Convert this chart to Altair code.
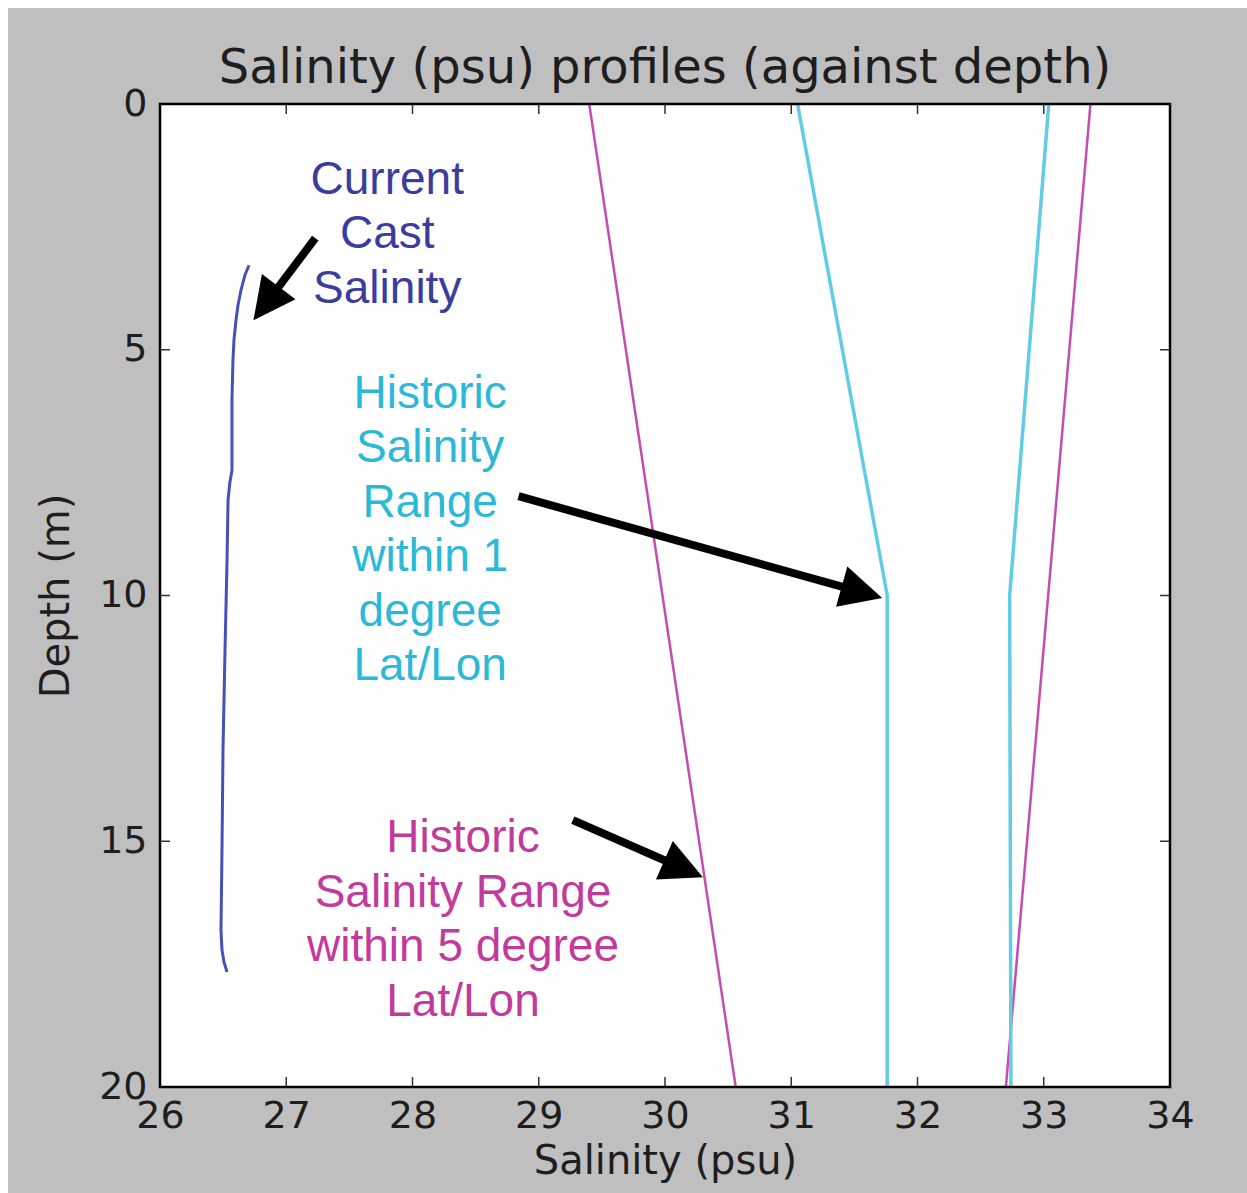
import math
import altair as alt
import pandas as pd

# ---- plot geometry -------------------------------------------------------
W, H = 1010, 983
PAD = {"left": 160, "top": 104, "right": 77, "bottom": 106}
SAL_DOMAIN = [26, 34]
DEPTH_DOMAIN = [0, 20]
KX = W / (SAL_DOMAIN[1] - SAL_DOMAIN[0])      # px per psu
KY = H / (DEPTH_DOMAIN[1] - DEPTH_DOMAIN[0])  # px per metre

TITLE = "Salinity (psu) profiles (against depth)"

# ---- profiles ------------------------------------------------------------
# current cast
cast_salinity = [26.705, 26.673, 26.642, 26.618, 26.602, 26.586, 26.578, 26.570, 26.570,
                 26.554, 26.539, 26.531, 26.515, 26.499, 26.491, 26.483, 26.491, 26.507, 26.531]
cast_depth = [3.28, 3.48, 3.78, 4.09, 4.40, 4.80, 5.21, 6.02, 7.45,
              7.69, 8.06, 9.28, 11.11, 13.14, 15.18, 16.81, 17.21, 17.46, 17.66]

# historic range within 1 degree lat/lon (lower and upper envelope)
hist1_low_salinity = [31.05, 31.76, 31.76]
hist1_low_depth = [0, 10, 20]
hist1_high_salinity = [33.04, 32.73, 32.74]
hist1_high_depth = [0, 10, 20]

# historic range within 5 degree lat/lon (lower and upper envelope)
hist5_low_salinity = [29.40, 30.56]
hist5_low_depth = [0, 20]
hist5_high_salinity = [33.37, 32.70]
hist5_high_depth = [0, 20]

x_ticks = [26, 27, 28, 29, 30, 31, 32, 33, 34]
y_ticks = [0, 5, 10, 15, 20]

# ---- annotations ---------------------------------------------------------
note_text = [
    "Current\nCast\nSalinity",
    "Historic\nSalinity\nRange\nwithin 1\ndegree\nLat/Lon",
    "Historic\nSalinity Range\nwithin 5 degree\nLat/Lon",
]
note_salinity = [27.80, 28.14, 28.40]
note_depth = [1.83, 6.18, 15.22]
note_color = ["#3a3d9e", "#2cb8d7", "#c23a9c"]

arrow_tail_salinity = [27.23, 28.84, 29.27]
arrow_tail_depth = [2.73, 7.98, 14.57]
arrow_tip_salinity = [26.74, 31.72, 30.30]
arrow_tip_depth = [4.40, 10.05, 15.73]

# ---- styles --------------------------------------------------------------
BG_GREY = "#c0bfc0"
INK = "#1e1e1e"
CAST_COLOR = "#4550b8"
HIST1_COLOR = "#62cce2"
HIST5_COLOR = "#c34db0"
HEAD_LEN = 42

x_scale = alt.Scale(domain=SAL_DOMAIN, nice=False, zero=False)
y_scale = alt.Scale(domain=DEPTH_DOMAIN, reverse=True, nice=False, zero=False)

x_axis = alt.Axis(
    values=x_ticks, title="Salinity (psu)", ticks=False, domain=False, grid=False,
    labelFontSize=38, labelFont="DejaVu Sans", labelColor=INK, labelPadding=10,
    labelFlush=False, labelOverlap=False,
    titleFontSize=40, titleFont="DejaVu Sans", titleFontWeight="normal",
    titleColor=INK, titlePadding=6, zindex=1,
)
y_axis = alt.Axis(
    values=y_ticks, title="Depth (m)", ticks=False, domain=False, grid=False,
    labelFontSize=38, labelFont="DejaVu Sans", labelColor=INK, labelPadding=13,
    labelFlush=False, labelOverlap=False,
    titleFontSize=40, titleFont="DejaVu Sans", titleFontWeight="normal",
    titleColor=INK, titlePadding=22, zindex=1,
)


def X(field):
    return alt.X(f"{field}:Q", scale=x_scale, axis=x_axis)


def Y(field):
    return alt.Y(f"{field}:Q", scale=y_scale, axis=y_axis)


one_row = alt.Data(values=[{"k": 0}])

# grey figure background and white axes face
figure_bg = alt.Chart(one_row).mark_rect(color=BG_GREY).encode(
    x=alt.value(-PAD["left"] + 8), x2=alt.value(W + PAD["right"]),
    y=alt.value(-PAD["top"] + 8), y2=alt.value(H + PAD["bottom"]),
)
axes_face = alt.Chart(one_row).mark_rect(color="white").encode(
    x=alt.value(0), x2=alt.value(W), y=alt.value(0), y2=alt.value(H),
)

# figure title, centred over the axes
title_mark = alt.Chart(one_row).mark_text(
    text=TITLE, font="DejaVu Sans", fontSize=48, color=INK,
    align="center", baseline="alphabetic",
).encode(x=alt.value(W / 2), y=alt.value(-21))

# inward ticks on all four sides
xt = pd.DataFrame({"v": x_ticks})
yt = pd.DataFrame({"v": y_ticks})
tick_style = dict(color="#333333", strokeWidth=1.5)
ticks = [
    alt.Chart(xt).mark_rule(**tick_style).encode(x=X("v"), y=alt.value(H), y2=alt.value(H - 10)),
    alt.Chart(xt).mark_rule(**tick_style).encode(x=X("v"), y=alt.value(0), y2=alt.value(10)),
    alt.Chart(yt).mark_rule(**tick_style).encode(y=Y("v"), x=alt.value(0), x2=alt.value(10)),
    alt.Chart(yt).mark_rule(**tick_style).encode(y=Y("v"), x=alt.value(W), x2=alt.value(W - 10)),
]


def profile(sal, dep, color, width):
    df = pd.DataFrame({"salinity": sal, "depth": dep, "idx": range(len(sal))})
    return alt.Chart(df).mark_line(color=color, strokeWidth=width, strokeJoin="round").encode(
        x=X("salinity"), y=Y("depth"), order=alt.Order("idx:Q")
    )


lines = [
    profile(hist5_low_salinity, hist5_low_depth, HIST5_COLOR, 2.5),
    profile(hist5_high_salinity, hist5_high_depth, HIST5_COLOR, 2.5),
    profile(hist1_low_salinity, hist1_low_depth, HIST1_COLOR, 3.5),
    profile(hist1_high_salinity, hist1_high_depth, HIST1_COLOR, 3.5),
    profile(cast_salinity, cast_depth, CAST_COLOR, 3),
]

# arrows: shaft stops inside the head, head rotated along the shaft
arrow_rows = []
for ts, td, hs, hd in zip(arrow_tail_salinity, arrow_tail_depth, arrow_tip_salinity, arrow_tip_depth):
    dx = (hs - ts) * KX
    dy = (hd - td) * KY
    length = math.hypot(dx, dy)
    back = (HEAD_LEN * 0.6) / length
    arrow_rows.append({
        "tail_s": ts, "tail_d": td, "tip_s": hs, "tip_d": hd,
        "end_s": hs - (hs - ts) * back, "end_d": hd - (hd - td) * back,
        "angle": math.degrees(math.atan2(dy, dx)) % 360,
    })
arrows_df = pd.DataFrame(arrow_rows)

shafts = alt.Chart(arrows_df).mark_rule(color="black", strokeWidth=8, strokeCap="butt").encode(
    x=X("tail_s"), y=Y("tail_d"), x2="end_s:Q", y2="end_d:Q"
)
heads = alt.Chart(arrows_df).mark_point(
    shape="M0,0L-2,-1L-2,1Z", filled=True, size=HEAD_LEN ** 2,
    color="black", opacity=1, strokeWidth=0,
).encode(x=X("tip_s"), y=Y("tip_d"), angle=alt.Angle("angle:Q", scale=None))

notes_df = pd.DataFrame({
    "text": note_text, "salinity": note_salinity, "depth": note_depth, "color": note_color,
})
notes = alt.Chart(notes_df).mark_text(
    font="Liberation Sans", fontSize=46, lineBreak="\n", lineHeight=54.5,
    align="center", baseline="alphabetic",
).encode(
    x=X("salinity"), y=Y("depth"), text="text:N", color=alt.Color("color:N", scale=None)
)

frame = alt.Chart(one_row).mark_rect(fillOpacity=0, stroke="black", strokeWidth=2.5).encode(
    x=alt.value(0), x2=alt.value(W), y=alt.value(0), y2=alt.value(H),
)

chart = alt.layer(
    figure_bg, axes_face, title_mark, *ticks, *lines, shafts, heads, notes, frame
).properties(
    width=W, height=H,
    autosize=alt.AutoSizeParams(type="none"),
    padding=PAD,
    background="white",
).configure_view(strokeWidth=0)

chart.save("out.html", embed_options={"renderer": "svg", "actions": False})
